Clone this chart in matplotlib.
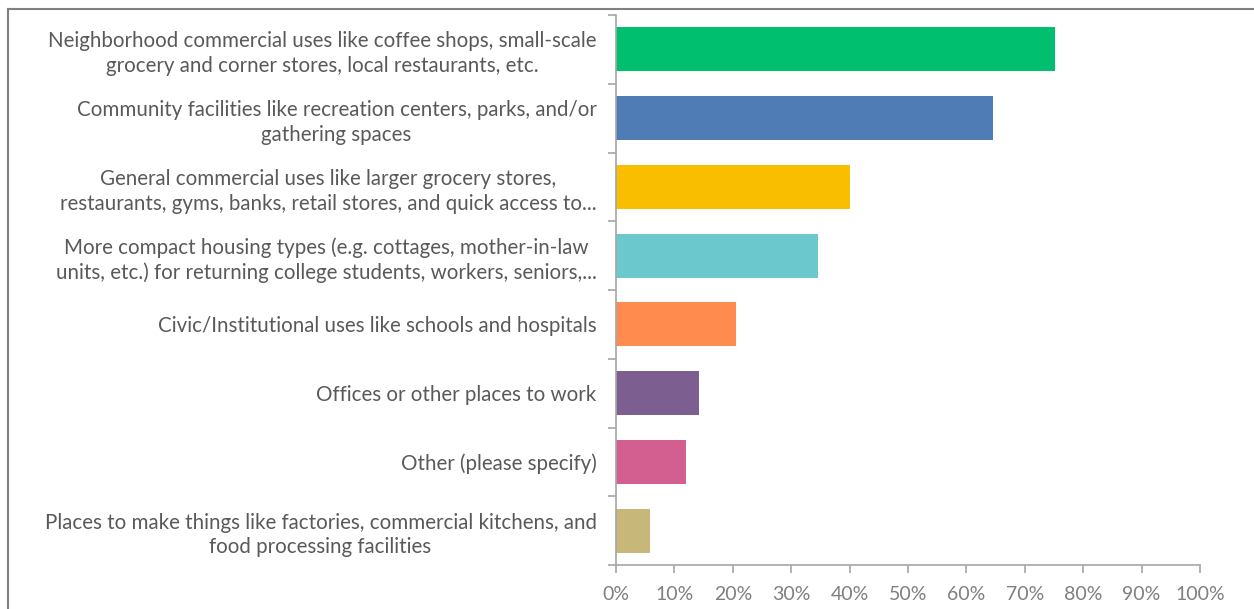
import matplotlib
matplotlib.use("Agg")
import matplotlib.pyplot as plt
from matplotlib.lines import Line2D
from matplotlib.ticker import FuncFormatter, MultipleLocator

categories = [
    "Neighborhood commercial uses like coffee shops, small-scale\ngrocery and corner stores, local restaurants, etc.",
    "Community facilities like recreation centers, parks, and/or\ngathering spaces",
    "General commercial uses like larger grocery stores,\nrestaurants, gyms, banks, retail stores, and quick access to...",
    "More compact housing types (e.g. cottages, mother-in-law\nunits, etc.) for returning college students, workers, seniors,...",
    "Civic/Institutional uses like schools and hospitals",
    "Offices or other places to work",
    "Other (please specify)",
    "Places to make things like factories, commercial kitchens, and\nfood processing facilities",
]
values = [75.1, 64.5, 40.1, 34.6, 20.6, 14.2, 12.0, 5.8]
colors = ["#00BF6F", "#507CB6", "#F9BE00", "#6BC8CD", "#FF8B4F", "#7D5E90", "#D25F90", "#C7B879"]

plt.rcParams['font.family'] = ['Lato', 'DejaVu Sans']

fig = plt.figure(figsize=(12.54, 6.09), dpi=100)
W, H = 1254, 609
ax = fig.add_axes([616 / W, 1 - 565 / H, (1200 - 616) / W, (565 - 15) / H])

n = len(categories)
ypos = list(range(n))
ax.barh(ypos, values, height=0.64, color=colors)
ax.set_ylim(n - 0.5, -0.5)
ax.set_xlim(0, 100)

ax.set_yticks(ypos)
ax.set_yticklabels(categories, fontsize=14.8, color="#595959", linespacing=1.3)
for lab in ax.get_yticklabels():
    lab.set_multialignment("center")
ax.tick_params(axis="y", length=0, pad=14)
ax.set_yticks([i - 0.5 for i in range(n + 1)], minor=True)
ax.tick_params(axis="y", which="minor", length=6, color="#a6a6a6", width=1.2)

ax.xaxis.set_major_locator(MultipleLocator(10))
ax.xaxis.set_major_formatter(FuncFormatter(lambda v, p: f"{int(round(v))}%"))
ax.tick_params(axis="x", length=6, color="#a6a6a6", width=1.2, labelsize=14,
               labelcolor="#7f7f7f", pad=9)

for s in ["top", "right"]:
    ax.spines[s].set_visible(False)
for s in ["left", "bottom"]:
    ax.spines[s].set_color("#a6a6a6")
    ax.spines[s].set_linewidth(1.2)

fig.add_artist(Line2D([8 / W, 1], [1 - 9 / H, 1 - 9 / H], color="#808080", lw=1.5,
                      transform=fig.transFigure))
fig.add_artist(Line2D([8 / W, 8 / W], [0, 1 - 9 / H], color="#808080", lw=1.5,
                      transform=fig.transFigure))

fig.savefig("out.png", dpi=100)
